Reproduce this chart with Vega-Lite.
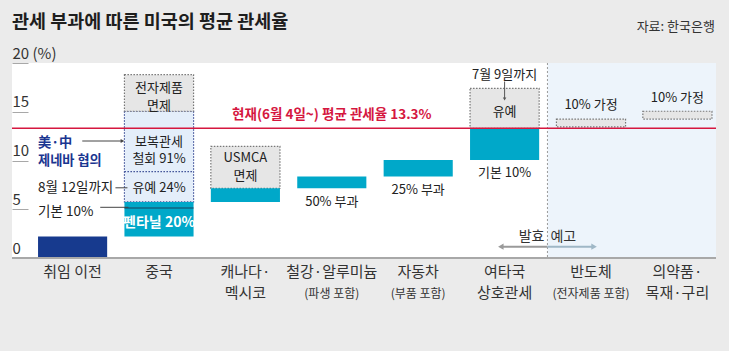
{
  "$schema": "https://vega.github.io/schema/vega-lite/v6.json",
  "width": 704,
  "height": 195,
  "autosize": {"type": "none"},
  "padding": {"left": 12, "top": 63, "right": 13, "bottom": 93},
  "background": "#ebebeb",
  "title": {"text": "관세 부과에 따른 미국의 평균 관세율", "anchor": "start", "frame": "group", "fontSize": 18.5, "fontWeight": "bold", "color": "#1e1e1e", "offset": -11},
  "config": {"font": "Noto Sans CJK KR", "view": {"fill": "white", "stroke": null}},
  "data": {"values": [{"note": "annotation"}]},
  "layer": [
    {
      "mark": {"type": "rect", "color": "#edf4fb", "xOffset": -9},
      "encoding": {
        "x": {"datum": "반도체", "type": "nominal", "bandPosition": 0, "title": null,
          "scale": {"domain": ["취임 이전", "중국", "캐나다·멕시코", "철강·알루미늄", "자동차", "여타국 상호관세", "반도체", "의약품·목재·구리"], "range": [17.4, 708.6], "paddingInner": 0.2, "paddingOuter": 0.1},
          "axis": {"domain": false, "ticks": false, "labelAngle": 0, "labelAlign": "center", "labelFontSize": 15, "labelColor": "#333333", "labelPadding": 6, "labelLineHeight": 21, "labelOverlap": false, "labelBaseline": "top",
            "labelExpr": "datum.value == '캐나다·멕시코' ? ['캐나다·', '멕시코'] : datum.value == '여타국 상호관세' ? ['여타국', '상호관세'] : datum.value == '의약품·목재·구리' ? ['의약품·', '목재·구리'] : datum.value"}},
        "x2": {"value": "width"},
        "y": {"datum": 20, "type": "quantitative", "title": null,
          "scale": {"domain": [0, 20], "nice": false},
          "axis": {"domain": false, "grid": false, "ticks": true, "tickSize": -16, "tickColor": "#a8a8a8", "values": [0, 5, 10, 15, 20], "labelAlign": "left", "labelBaseline": "alphabetic", "labelOffset": -5, "labelPadding": 16, "labelFontSize": 15, "labelColor": "#333333", "labelExpr": "datum.value == 20 ? '20 (%)' : datum.label"}},
        "y2": {"datum": 0}
      }
    },
    {
      "mark": {"type": "rule", "color": "#9a9a9a", "strokeDash": [2, 2], "xOffset": -9},
      "encoding": {"x": {"datum": "반도체", "type": "nominal", "bandPosition": 0, "title": null}}
    },
    {
      "data": {"values": [
        {"cat": "중국", "lo": 5.75, "hi": 15.05, "kind": "유예·철회"},
        {"cat": "중국", "lo": 15.05, "hi": 18.8, "kind": "면제"},
        {"cat": "캐나다·멕시코", "lo": 7.15, "hi": 11.45, "kind": "면제"},
        {"cat": "여타국 상호관세", "lo": 13.3, "hi": 17.4, "kind": "유예"},
        {"cat": "반도체", "lo": 13.45, "hi": 14.25, "kind": "가정"},
        {"cat": "의약품·목재·구리", "lo": 14.25, "hi": 15.05, "kind": "가정"}
      ]},
      "mark": {"type": "rect", "strokeDash": [1.5, 1.5], "strokeWidth": 1.2},
      "encoding": {
        "x": {"field": "cat", "type": "nominal", "title": null},
        "y": {"field": "lo", "type": "quantitative", "title": null},
        "y2": {"field": "hi"},
        "fill": {"field": "kind", "type": "nominal", "legend": null, "scale": {"domain": ["유예·철회", "면제", "유예", "가정"], "range": ["#e4eefa", "#e6e6e6", "#e6e6e6", "#e6e6e6"]}},
        "stroke": {"field": "kind", "type": "nominal", "legend": null, "scale": {"domain": ["유예·철회", "면제", "유예", "가정"], "range": ["#3d4f96", "#777777", "#777777", "#777777"]}}
      }
    },
    {
      "data": {"values": [
        {"cat": "취임 이전", "lo": 0, "hi": 2.2, "kind": "기존"},
        {"cat": "중국", "lo": 2.2, "hi": 5.75, "kind": "부과"},
        {"cat": "캐나다·멕시코", "lo": 5.75, "hi": 7.15, "kind": "부과"},
        {"cat": "철강·알루미늄", "lo": 7.15, "hi": 8.35, "kind": "부과"},
        {"cat": "자동차", "lo": 8.35, "hi": 10.05, "kind": "부과"},
        {"cat": "여타국 상호관세", "lo": 10.05, "hi": 13.3, "kind": "부과"}
      ]},
      "mark": {"type": "rect"},
      "encoding": {
        "x": {"field": "cat", "type": "nominal", "title": null},
        "y": {"field": "lo", "type": "quantitative", "title": null},
        "y2": {"field": "hi"},
        "color": {"field": "kind", "type": "nominal", "legend": null, "scale": {"domain": ["기존", "부과"], "range": ["#173a8e", "#00a8c9"]}}
      }
    },
    {
      "mark": {"type": "rule", "color": "#3d4f96", "strokeDash": [1.5, 1.5], "strokeWidth": 1.2},
      "encoding": {
        "x": {"datum": "중국", "type": "nominal", "bandPosition": 0, "title": null},
        "x2": {"datum": "중국", "bandPosition": 1},
        "y": {"datum": 8.85, "type": "quantitative", "title": null}
      }
    },
    {
      "mark": {"type": "rule", "color": "#1b3f5c", "strokeWidth": 1.2},
      "encoding": {
        "x": {"datum": "중국", "type": "nominal", "bandPosition": 0, "title": null},
        "x2": {"datum": "중국", "bandPosition": 1},
        "y": {"datum": 5.13, "type": "quantitative", "title": null}
      }
    },
    {
      "mark": {"type": "rule", "color": "#d5173f", "strokeWidth": 1.5},
      "encoding": {"y": {"datum": 13.3, "type": "quantitative", "title": null}}
    },
    {
      "mark": {"type": "rule", "color": "#a8a8a8", "strokeWidth": 2},
      "encoding": {"y": {"datum": 0, "type": "quantitative", "title": null}}
    },
    {
      "data": {"values": [
        {"cat": "중국", "v": 17.4, "t": "전자제품\n면제"},
        {"cat": "중국", "v": 11.93, "t": "보복관세\n철회 91%"},
        {"cat": "중국", "v": 7.15, "t": "유예 24%"},
        {"cat": "캐나다·멕시코", "v": 10.23, "t": "USMCA\n면제"},
        {"cat": "철강·알루미늄", "v": 5.77, "t": "50% 부과"},
        {"cat": "자동차", "v": 6.97, "t": "25% 부과"},
        {"cat": "여타국 상호관세", "v": 18.77, "t": "7월 9일까지"},
        {"cat": "여타국 상호관세", "v": 15.0, "t": "유예"},
        {"cat": "여타국 상호관세", "v": 8.69, "t": "기본 10%"},
        {"cat": "반도체", "v": 15.7, "t": "10% 가정"},
        {"cat": "의약품·목재·구리", "v": 16.4, "t": "10% 가정"}
      ]},
      "mark": {"type": "text", "fontSize": 13, "color": "#222222", "baseline": "middle", "lineBreak": "\n", "lineHeight": 17.5},
      "encoding": {
        "x": {"field": "cat", "type": "nominal", "title": null},
        "y": {"field": "v", "type": "quantitative", "title": null},
        "text": {"field": "t"}
      }
    },
    {
      "data": {"values": [{"cat": "중국", "v": 3.56, "t": "펜타닐 20%"}]},
      "mark": {"type": "text", "fontSize": 14, "fontWeight": "bold", "color": "white", "baseline": "middle"},
      "encoding": {
        "x": {"field": "cat", "type": "nominal", "title": null},
        "y": {"field": "v", "type": "quantitative", "title": null},
        "text": {"field": "t"}
      }
    },
    {
      "data": {"values": [
        {"cat": "취임 이전", "v": 11.8, "t": "美·中\n제네바 협의"}
      ]},
      "mark": {"type": "text", "fontSize": 13.2, "fontWeight": "bold", "color": "#1a3590", "align": "left", "baseline": "middle", "lineBreak": "\n", "lineHeight": 17.6},
      "encoding": {
        "x": {"field": "cat", "type": "nominal", "bandPosition": 0, "title": null},
        "y": {"field": "v", "type": "quantitative", "title": null},
        "text": {"field": "t"}
      }
    },
    {
      "data": {"values": [
        {"cat": "취임 이전", "v": 7.15, "t": "8월 12일까지"},
        {"cat": "취임 이전", "v": 4.75, "t": "기본 10%"}
      ]},
      "mark": {"type": "text", "fontSize": 13.5, "color": "#222222", "align": "left", "baseline": "middle"},
      "encoding": {
        "x": {"field": "cat", "type": "nominal", "bandPosition": 0, "title": null},
        "y": {"field": "v", "type": "quantitative", "title": null},
        "text": {"field": "t"}
      }
    },
    {
      "data": {"values": [{"cat": "철강·알루미늄", "v": 14.67, "t": "현재(6월 4일~) 평균 관세율 13.3%"}]},
      "mark": {"type": "text", "fontSize": 13.5, "fontWeight": "bold", "color": "#d5173f", "baseline": "middle"},
      "encoding": {
        "x": {"field": "cat", "type": "nominal", "title": null},
        "y": {"field": "v", "type": "quantitative", "title": null},
        "text": {"field": "t"}
      }
    },
    {
      "data": {"values": [
        {"cat": "철강·알루미늄", "t": "(파생 포함)"},
        {"cat": "자동차", "t": "(부품 포함)"},
        {"cat": "반도체", "t": "(전자제품 포함)"}
      ]},
      "mark": {"type": "text", "fontSize": 12, "color": "#333333", "baseline": "middle"},
      "encoding": {
        "x": {"field": "cat", "type": "nominal", "title": null},
        "y": {"datum": -3.7, "type": "quantitative", "title": null},
        "text": {"field": "t"}
      }
    },
    {
      "mark": {"type": "text", "fontSize": 14, "color": "#333333", "align": "right", "baseline": "middle", "xOffset": -12},
      "encoding": {
        "x": {"datum": "반도체", "type": "nominal", "bandPosition": 0, "title": null},
        "y": {"datum": 2.18, "type": "quantitative", "title": null},
        "text": {"value": "발효"}
      }
    },
    {
      "mark": {"type": "text", "fontSize": 14, "color": "#333333", "align": "left", "baseline": "middle", "xOffset": -6},
      "encoding": {
        "x": {"datum": "반도체", "type": "nominal", "bandPosition": 0, "title": null},
        "y": {"datum": 2.18, "type": "quantitative", "title": null},
        "text": {"value": "예고"}
      }
    },
    {
      "mark": {"type": "text", "fontSize": 13, "color": "#333333", "align": "right", "baseline": "middle", "xOffset": 3},
      "encoding": {
        "x": {"datum": "의약품·목재·구리", "type": "nominal", "bandPosition": 1, "title": null},
        "y": {"datum": 23.7, "type": "quantitative", "title": null},
        "text": {"value": "자료: 한국은행"}
      }
    },
    {
      "mark": {"type": "rule", "color": "#444444", "strokeWidth": 1, "x2Offset": -3},
      "encoding": {
        "x": {"datum": "취임 이전", "type": "nominal", "bandPosition": 0.64, "title": null},
        "x2": {"datum": "중국", "bandPosition": 0},
        "y": {"datum": 12.0, "type": "quantitative", "title": null}
      }
    },
    {
      "mark": {"type": "rule", "color": "#444444", "strokeWidth": 1, "xOffset": -9, "x2Offset": 3},
      "encoding": {
        "x": {"datum": "중국", "type": "nominal", "bandPosition": 0, "title": null},
        "x2": {"datum": "중국", "bandPosition": 0},
        "y": {"datum": 7.2, "type": "quantitative", "title": null}
      }
    },
    {
      "mark": {"type": "rule", "color": "#444444", "strokeWidth": 1, "x2Offset": 4},
      "encoding": {
        "x": {"datum": "취임 이전", "type": "nominal", "bandPosition": 0.9, "title": null},
        "x2": {"datum": "중국", "bandPosition": 0},
        "y": {"datum": 5.2, "type": "quantitative", "title": null}
      }
    },
    {
      "mark": {"type": "point", "shape": "triangle-right", "filled": true, "color": "#444444", "size": 18, "opacity": 1, "xOffset": -2},
      "encoding": {
        "x": {"datum": "중국", "type": "nominal", "bandPosition": 0, "title": null},
        "y": {"datum": 12.0, "type": "quantitative", "title": null}
      }
    },
    {
      "mark": {"type": "rule", "color": "#555555", "strokeWidth": 1},
      "encoding": {
        "x": {"datum": "여타국 상호관세", "type": "nominal", "title": null},
        "y": {"datum": 18.1, "type": "quantitative", "title": null},
        "y2": {"datum": 16.3}
      }
    },
    {
      "mark": {"type": "point", "shape": "triangle-down", "filled": true, "color": "#555555", "size": 12, "opacity": 1},
      "encoding": {
        "x": {"datum": "여타국 상호관세", "type": "nominal", "title": null},
        "y": {"datum": 16.3, "type": "quantitative", "title": null}
      }
    },
    {
      "mark": {"type": "rule", "color": "#9a9a9a", "strokeWidth": 2, "x2Offset": -9},
      "encoding": {
        "x": {"datum": "여타국 상호관세", "type": "nominal", "bandPosition": 0.46, "title": null},
        "x2": {"datum": "반도체", "bandPosition": 0},
        "y": {"datum": 1.16, "type": "quantitative", "title": null}
      }
    },
    {
      "mark": {"type": "rule", "color": "#9fb7c6", "strokeWidth": 2, "xOffset": -9},
      "encoding": {
        "x": {"datum": "반도체", "type": "nominal", "bandPosition": 0, "title": null},
        "x2": {"datum": "반도체", "bandPosition": 0.53},
        "y": {"datum": 1.16, "type": "quantitative", "title": null}
      }
    },
    {
      "mark": {"type": "point", "shape": "triangle-left", "filled": true, "color": "#9a9a9a", "size": 40, "opacity": 1, "xOffset": -1},
      "encoding": {
        "x": {"datum": "여타국 상호관세", "type": "nominal", "bandPosition": 0.46, "title": null},
        "y": {"datum": 1.16, "type": "quantitative", "title": null}
      }
    },
    {
      "mark": {"type": "point", "shape": "triangle-right", "filled": true, "color": "#9fb7c6", "size": 40, "opacity": 1, "xOffset": 1},
      "encoding": {
        "x": {"datum": "반도체", "type": "nominal", "bandPosition": 0.53, "title": null},
        "y": {"datum": 1.16, "type": "quantitative", "title": null}
      }
    }
  ]
}
